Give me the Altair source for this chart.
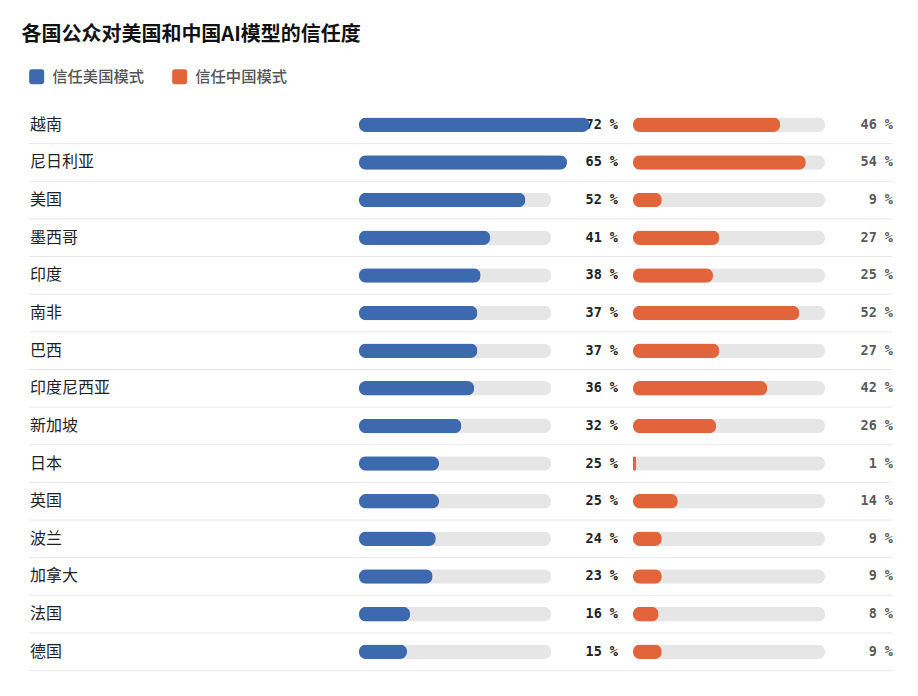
import altair as alt
import pandas as pd

countries = ["越南", "尼日利亚", "美国", "墨西哥", "印度", "南非", "巴西", "印度尼西亚",
             "新加坡", "日本", "英国", "波兰", "加拿大", "法国", "德国"]
trust_us = [72, 65, 52, 41, 38, 37, 37, 36, 32, 25, 25, 24, 23, 16, 15]
trust_cn = [46, 54, 9, 27, 25, 52, 27, 42, 26, 1, 14, 9, 9, 8, 9]
series_names = ["信任美国模式", "信任中国模式"]
series_colors = ["#3d69ae", "#e2643a"]
track_max = 60

TRACK = "#e6e6e6"
LINE = "#e8e8e8"
CJK = "Noto Sans CJK SC"
MONO = "DejaVu Sans Mono"

PX_PER_PCT = 3.2
ROW_H = 37.64
H = ROW_H * len(countries)
W_A, W_B, W_C = 330, 274, 259

df = pd.DataFrame({
    "country": countries,
    "us": trust_us,
    "cn": trust_cn,
    "track": [track_max] * len(countries),
})
df["us_label"] = df["us"].astype(str) + " %"
df["cn_label"] = df["cn"].astype(str) + " %"
df["s_us"] = series_names[0]
df["s_cn"] = series_names[1]

yscale = alt.Scale(type="band", paddingInner=0, paddingOuter=0)


def Y(pos):
    return alt.Y("country:N", sort=countries, scale=yscale, axis=None, bandPosition=pos)


color_scale = alt.Scale(domain=series_names, range=series_colors)
base = alt.Chart(df)


def rule(w):
    return base.mark_rule(color=LINE, strokeWidth=1).encode(
        x=alt.value(0), x2=alt.value(w), y=Y(1)
    )


# Panel A: country labels
panel_a = alt.layer(
    rule(W_A),
    base.mark_text(align="left", baseline="middle", font=CJK, fontSize=16,
                   color="#1f1f1f", dx=1).encode(
        x=alt.value(0), y=Y(0.5), text="country:N"
    ),
).properties(width=W_A, height=H)


def bar_panel(width, label_x, field, label_field, series_field, label_color):
    xs = alt.Scale(domain=[0, width / PX_PER_PCT], nice=False, zero=True)
    return alt.layer(
        rule(width),
        base.mark_bar(size=14.5, cornerRadius=7, color=TRACK).encode(
            x=alt.X("track:Q", scale=xs, axis=None), y=Y(0.5)
        ),
        base.mark_text(align="right", baseline="middle", font=MONO, fontSize=13.5,
                       fontWeight="bold", color=label_color).encode(
            x=alt.value(label_x), y=Y(0.5), text=f"{label_field}:N"
        ),
        base.mark_bar(size=14.5, cornerRadius=7).encode(
            x=alt.X(f"{field}:Q", scale=xs, axis=None),
            y=Y(0.5),
            color=alt.Color(f"{series_field}:N", scale=color_scale,
                            legend=alt.Legend(title=None)),
        ),
    ).properties(width=width, height=H)


panel_b = bar_panel(W_B, W_B - 15, "us", "us_label", "s_us", "#222222")
panel_c = bar_panel(W_C, W_C + 1, "cn", "cn_label", "s_cn", "#5a5a5a")

chart = alt.hconcat(panel_a, panel_b, panel_c, spacing=0, bounds="flush").resolve_scale(
    y="shared", color="shared"
).properties(
    title=alt.TitleParams("各国公众对美国和中国AI模型的信任度", anchor="start",
                          font=CJK, fontSize=20, fontWeight="bold", color="#111111",
                          dx=-7, offset=24),
    padding={"left": 21, "top": 25, "right": 0, "bottom": 0},
    background="white",
).configure_view(stroke=None).configure_legend(
    orient="top", direction="horizontal",
    symbolType="M-0.62,-1 H0.62 Q1,-1 1,-0.62 V0.62 Q1,1 0.62,1 H-0.62 Q-1,1 -1,0.62 V-0.62 Q-1,-1 -0.62,-1 Z",
    symbolSize=225, symbolStrokeWidth=0, symbolOpacity=1,
    labelFont=CJK, labelFontSize=15.3, labelColor="#555555", labelFontWeight=500,
    labelOffset=8, columnPadding=27, offset=21, padding=0,
)

chart.save("out.html", embed_options={"renderer": "svg", "actions": False})
